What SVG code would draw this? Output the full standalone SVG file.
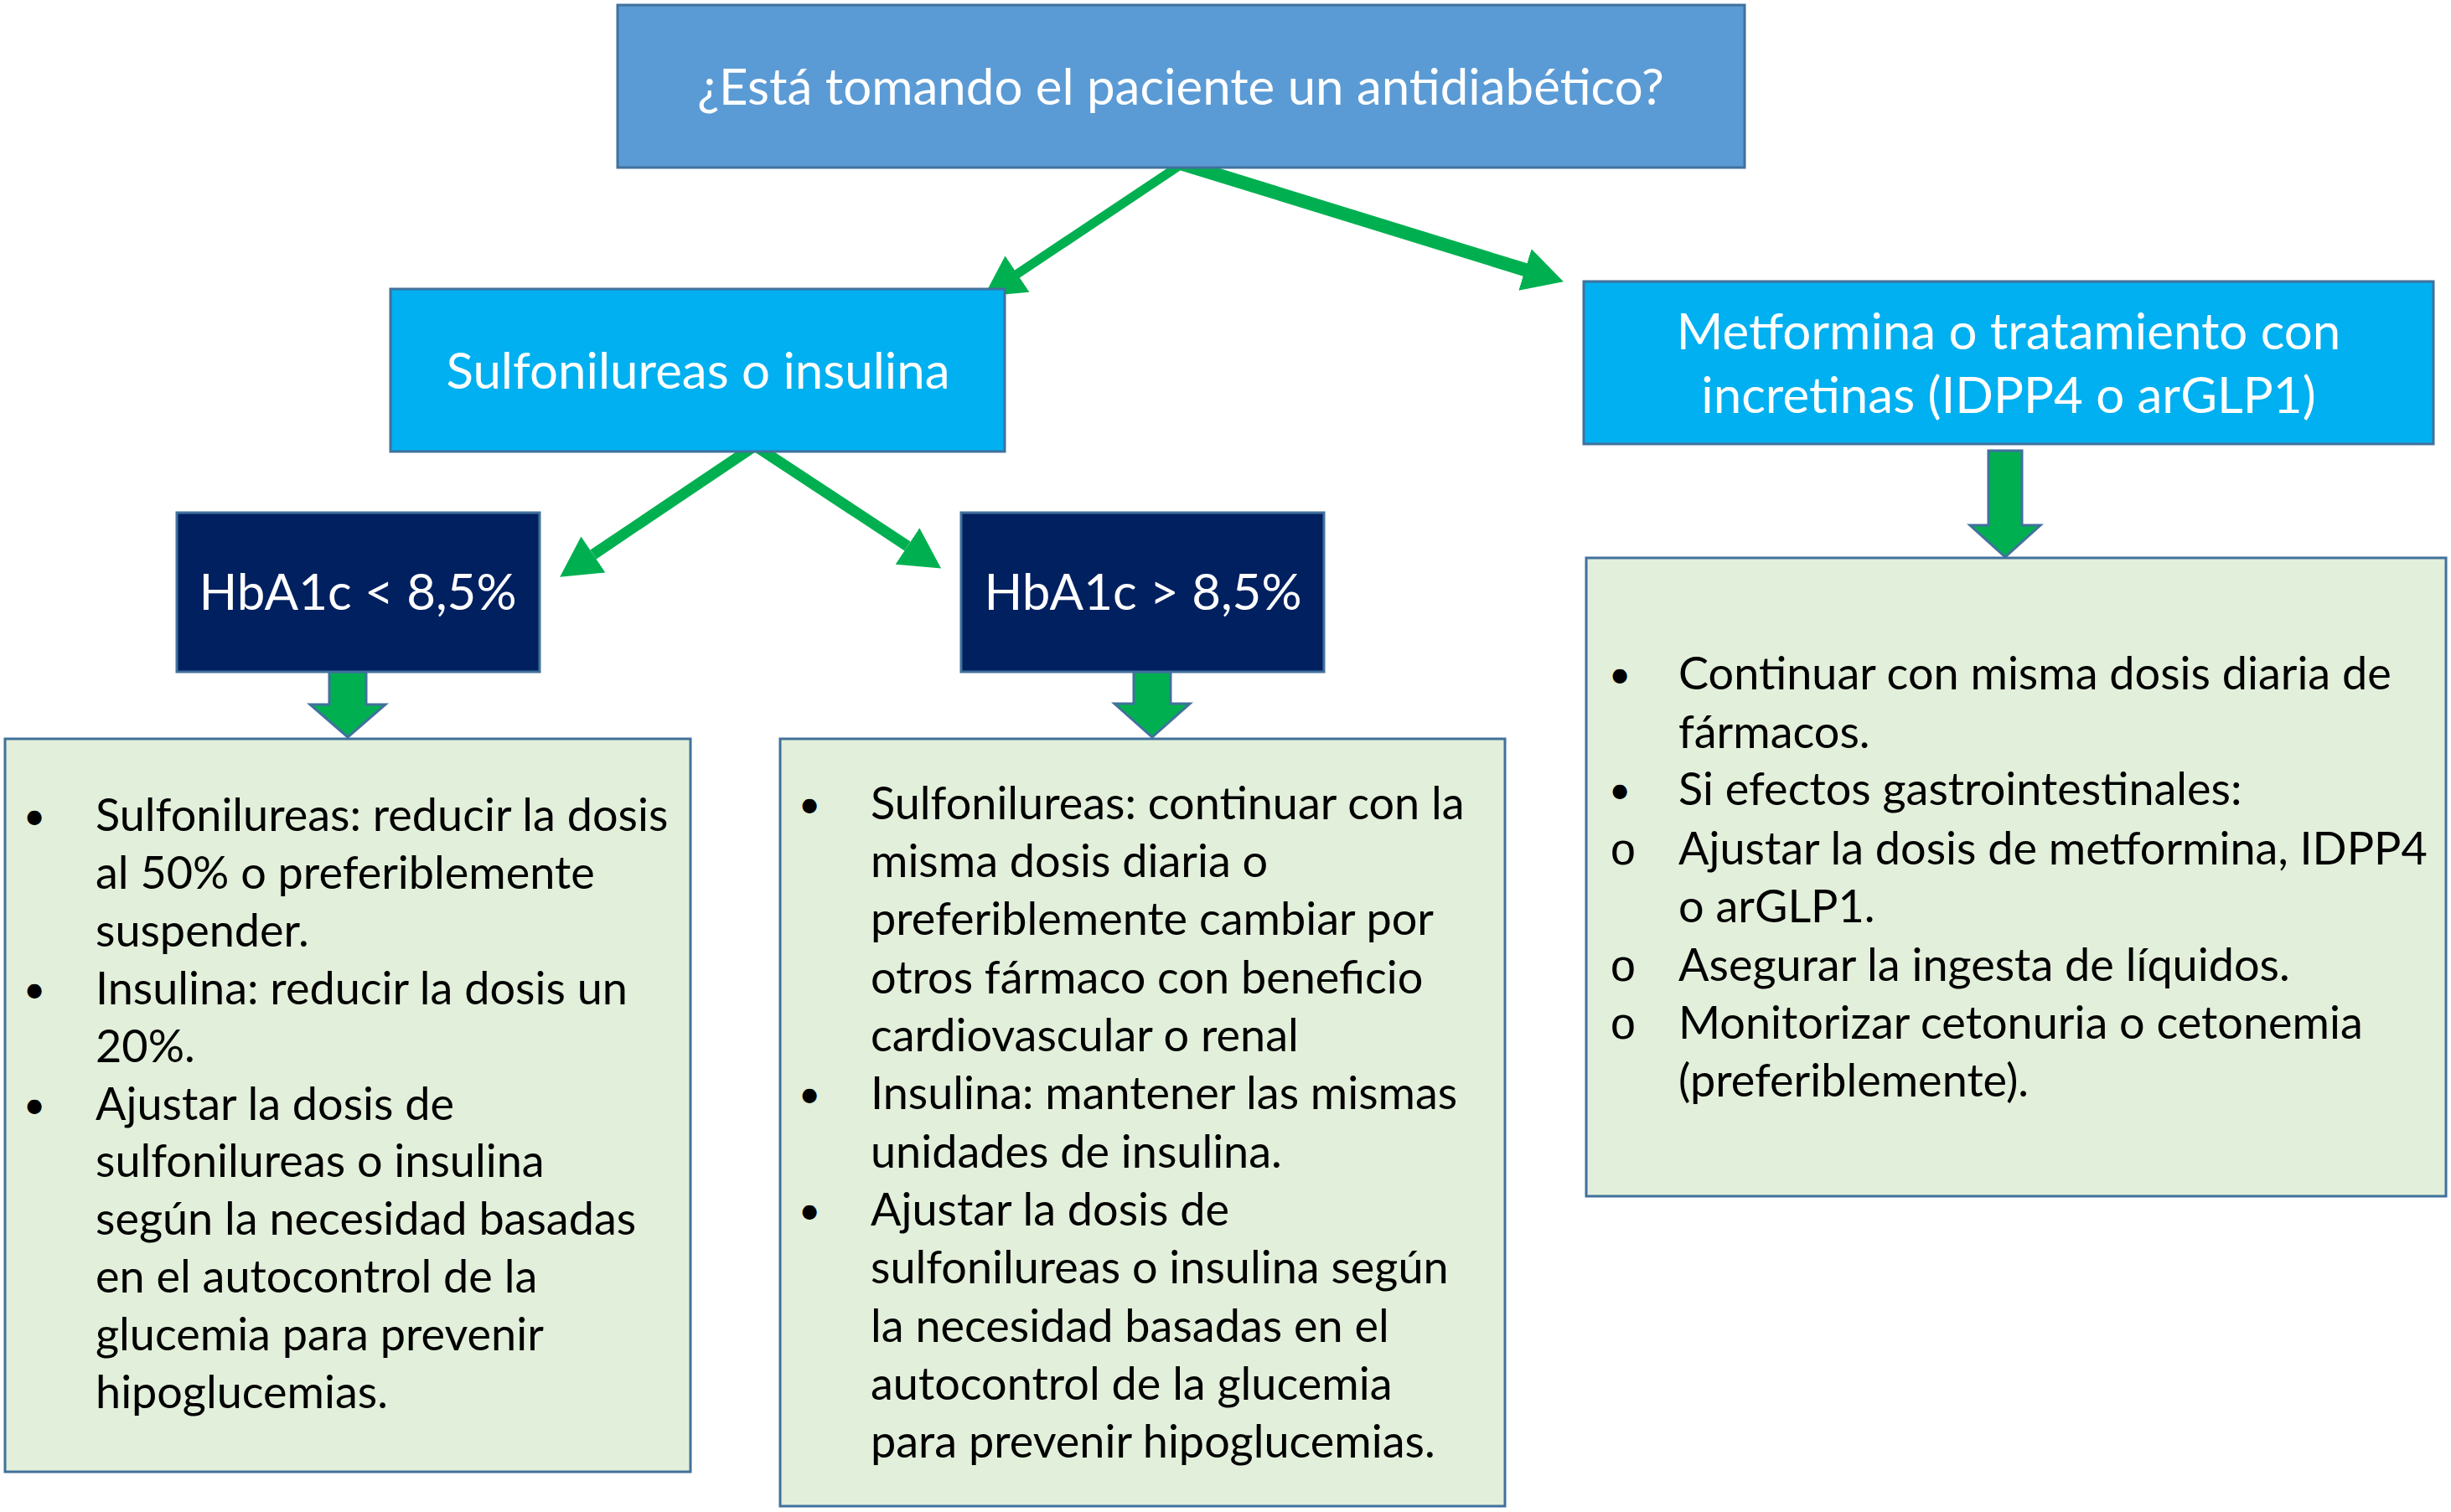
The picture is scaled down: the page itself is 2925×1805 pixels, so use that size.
<svg xmlns="http://www.w3.org/2000/svg" width="2925" height="1805" viewBox="0 0 2925 1805">
<defs>
<style>
.box{stroke:#41719C;stroke-width:3}
.q{fill:#5B9BD5}
.c{fill:#00B0F0}
.d{fill:#002060}
.g{fill:#E2EFDA}
.t{font-family:Lato,"Open Sans",sans-serif;font-size:60px;fill:#FFFFFF;text-anchor:middle}
.b{font-family:Lato,"Open Sans",sans-serif;font-size:54px;fill:#000000}
.bu{font-family:Lato,"Open Sans",sans-serif;font-size:46px;fill:#000000;text-anchor:middle}
.o{font-family:"Liberation Mono",monospace;font-size:54px;fill:#000000;text-anchor:middle}
.ln{stroke:#00B050;fill:none}
.blk{fill:#00B050;stroke:#41719C;stroke-width:3}
</style>
<marker id="ah" markerUnits="userSpaceOnUse" markerWidth="50" markerHeight="52" viewBox="0 0 50 52" refX="0" refY="26" orient="auto-start-reverse">
<path d="M0,0 L48,26 L0,52 z" fill="#00B050"/>
</marker>
</defs>
<rect width="2925" height="1805" fill="#FFFFFF"/>

<g id="connectors">
<path class="ln" d="M1410,196 L1214,327" stroke-width="11" stroke-linecap="round" marker-end="url(#ah)"/>
<path class="ln" d="M1412,196 L1820,322" stroke-width="16" stroke-linecap="round" marker-end="url(#ah)"/>
<path class="ln" d="M708,662 L901,532 L1083,652" stroke-width="13" stroke-linejoin="miter" marker-start="url(#ah)" marker-end="url(#ah)"/>
<polygon class="blk" points="393,802 437,802 437,841 460,841 415,880 370,841 393,841"/>
<polygon class="blk" points="1353,802 1397,802 1397,840 1420,840 1375,880 1330,840 1353,840"/>
<polygon class="blk" points="2373,538 2413,538 2413,627 2435,627 2393,665 2351,627 2373,627"/>
</g>

<g id="n-question">
<rect class="box q" x="737" y="6" width="1345" height="194"/>
<text class="t" x="1409" y="125">¿Está tomando el paciente un antidiabético?</text>
</g>

<g id="n-sulfonilureas">
<rect class="box c" x="466" y="345" width="733" height="194"/>
<text class="t" x="833" y="464">Sulfonilureas o insulina</text>
</g>

<g id="n-metformina">
<rect class="box c" x="1890" y="336" width="1014" height="194"/>
<text class="t" x="2397" y="417">Metformina o tratamiento con</text>
<text class="t" x="2397" y="493">incretinas (IDPP4 o arGLP1)</text>
</g>

<g id="n-hba1c-low">
<rect class="box d" x="211" y="612" width="433" height="190"/>
<text class="t" x="427" y="728">HbA1c &lt; 8,5%</text>
</g>

<g id="n-hba1c-high">
<rect class="box d" x="1147" y="612" width="433" height="190"/>
<text class="t" x="1364" y="728">HbA1c &gt; 8,5%</text>
</g>

<g id="n-left-actions">
<rect class="box g" x="6" y="882" width="818" height="875"/>
<text class="bu" x="41" y="990">•</text>
<text class="bu" x="41" y="1197">•</text>
<text class="bu" x="41" y="1335">•</text>
<text class="b">
<tspan x="114" y="992">Sulfonilureas: reducir la dosis</tspan>
<tspan x="114" y="1061">al 50% o preferiblemente</tspan>
<tspan x="114" y="1130">suspender.</tspan>
<tspan x="114" y="1199">Insulina: reducir la dosis un</tspan>
<tspan x="114" y="1268">20%.</tspan>
<tspan x="114" y="1337">Ajustar la dosis de</tspan>
<tspan x="114" y="1405">sulfonilureas o insulina</tspan>
<tspan x="114" y="1474">según la necesidad basadas</tspan>
<tspan x="114" y="1543">en el autocontrol de la</tspan>
<tspan x="114" y="1612">glucemia para prevenir</tspan>
<tspan x="114" y="1681">hipoglucemias.</tspan>
</text>
</g>

<g id="n-middle-actions">
<rect class="box g" x="931" y="882" width="865" height="916"/>
<text class="bu" x="966" y="976">•</text>
<text class="bu" x="966" y="1322">•</text>
<text class="bu" x="966" y="1461">•</text>
<text class="b">
<tspan x="1039" y="978">Sulfonilureas: continuar con la</tspan>
<tspan x="1039" y="1047">misma dosis diaria o</tspan>
<tspan x="1039" y="1116">preferiblemente cambiar por</tspan>
<tspan x="1039" y="1186">otros fármaco con beneficio</tspan>
<tspan x="1039" y="1255">cardiovascular o renal</tspan>
<tspan x="1039" y="1324">Insulina: mantener las mismas</tspan>
<tspan x="1039" y="1394">unidades de insulina.</tspan>
<tspan x="1039" y="1463">Ajustar la dosis de</tspan>
<tspan x="1039" y="1532">sulfonilureas o insulina según</tspan>
<tspan x="1039" y="1602">la necesidad basadas en el</tspan>
<tspan x="1039" y="1671">autocontrol de la glucemia</tspan>
<tspan x="1039" y="1740">para prevenir hipoglucemias.</tspan>
</text>
</g>

<g id="n-right-actions">
<rect class="box g" x="1893" y="666" width="1026" height="762"/>
<text class="bu" x="1933" y="821">•</text>
<text class="bu" x="1933" y="959">•</text>
<text class="o" x="1937" y="1032">o</text>
<text class="o" x="1937" y="1171">o</text>
<text class="o" x="1937" y="1240">o</text>
<text class="b">
<tspan x="2003" y="823">Continuar con misma dosis diaria de</tspan>
<tspan x="2003" y="893">fármacos.</tspan>
<tspan x="2003" y="961">Si efectos gastrointestinales:</tspan>
<tspan x="2003" y="1032">Ajustar la dosis de metformina, IDPP4</tspan>
<tspan x="2003" y="1101">o arGLP1.</tspan>
<tspan x="2003" y="1171">Asegurar la ingesta de líquidos.</tspan>
<tspan x="2003" y="1240">Monitorizar cetonuria o cetonemia</tspan>
<tspan x="2003" y="1309">(preferiblemente).</tspan>
</text>
</g>
</svg>
